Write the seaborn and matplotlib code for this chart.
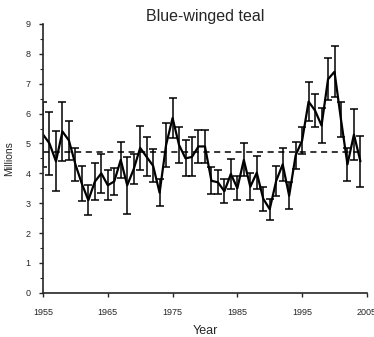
import matplotlib
matplotlib.use("Agg")
import matplotlib.pyplot as plt
from matplotlib.ticker import MultipleLocator
import seaborn as sns
import pandas as pd

years = list(range(1955, 2005))
# breeding population estimate, millions
estimate = [5.30, 5.00, 4.40, 5.40, 5.10, 4.30, 3.65, 3.10, 3.72, 4.00,
            3.60, 3.73, 4.45, 3.60, 4.14, 4.85, 4.55, 4.25, 3.35, 4.95,
            5.85, 4.95, 4.50, 4.55, 4.90, 4.90, 3.75, 3.70, 3.40, 3.98,
            3.50, 4.45, 3.55, 4.02, 3.15, 2.80, 3.75, 4.30, 3.25, 4.60,
            5.10, 6.40, 6.10, 5.60, 7.15, 7.40, 5.80, 4.30, 5.30, 4.40]
err = [1.10, 1.05, 1.00, 1.00, 0.65, 0.55, 0.58, 0.50, 0.62, 0.65,
       0.50, 0.45, 0.60, 0.95, 0.50, 0.75, 0.65, 0.55, 0.45, 0.75,
       0.68, 0.60, 0.60, 0.65, 0.55, 0.55, 0.45, 0.40, 0.40, 0.50,
       0.40, 0.55, 0.45, 0.55, 0.40, 0.35, 0.50, 0.55, 0.45, 0.45,
       0.45, 0.65, 0.55, 0.60, 0.70, 0.85, 0.60, 0.55, 0.85, 0.85]
long_term_avg = 4.73

df = pd.DataFrame({"Year": years, "Millions": estimate, "err": err})

sns.set_style("ticks")
plt.rcParams["font.family"] = ["Liberation Sans", "DejaVu Sans"]

fig = plt.figure(figsize=(3.74, 3.37), dpi=100)
ax = fig.add_axes([0.115, 0.131, 0.866, 0.798])

ax.errorbar(df["Year"], df["Millions"], yerr=df["err"], fmt="none",
            ecolor="black", elinewidth=1.1, capsize=2.8, capthick=1.1)
sns.lineplot(data=df, x="Year", y="Millions", color="black", linewidth=1.6, ax=ax)
ax.axhline(long_term_avg, xmin=0, xmax=0.98, color="black", linestyle=(0, (4, 3)), linewidth=1.1)

ax.set_xlim(1955, 2005)
ax.set_ylim(0, 9)
ax.set_xticks(range(1955, 2006, 10))
ax.yaxis.set_major_locator(MultipleLocator(1))
ax.yaxis.set_minor_locator(MultipleLocator(0.5))
ax.tick_params(axis="both", which="major", labelsize=6.5, length=3, width=1)
ax.tick_params(axis="x", which="major", pad=8)
ax.tick_params(axis="y", which="major", pad=6)
ax.tick_params(axis="y", which="minor", length=2, width=0.8)
for s in ["top", "right"]:
    ax.spines[s].set_visible(False)
for s in ["left", "bottom"]:
    ax.spines[s].set_linewidth(1.2)

ax.set_title("Blue-winged teal", fontsize=11.5, pad=0)
ax.set_xlabel("Year", fontsize=9, labelpad=6)
ax.set_ylabel("Millions", fontsize=7.5, labelpad=8)

fig.savefig("out.png", dpi=100)
